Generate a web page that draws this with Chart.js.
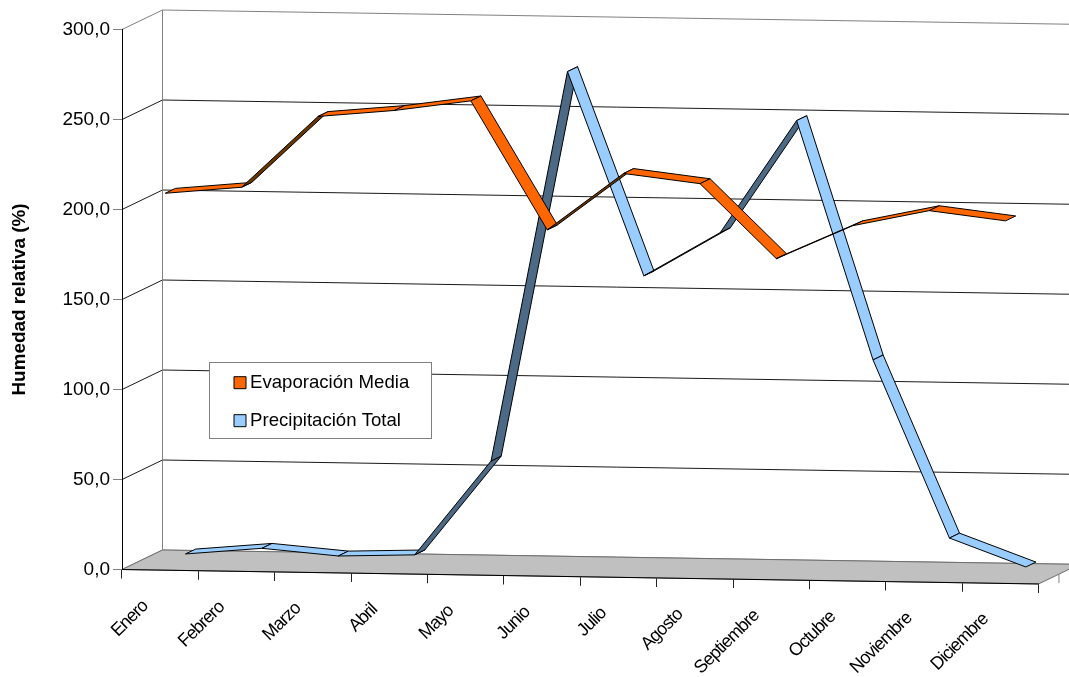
<!DOCTYPE html>
<html lang="es">
<head>
<meta charset="utf-8">
<style>html,body{margin:0;padding:0;background:#fff;overflow:hidden}canvas{display:block}</style>
<script src="https://cdn.jsdelivr.net/npm/chart.js@4"></script>
</head>
<body>
<canvas id="c" width="1069" height="677"></canvas>
<script>
const categories = ['Enero','Febrero','Marzo','Abril','Mayo','Junio','Julio','Agosto','Septiembre','Octubre','Noviembre','Diciembre'];
const evaporacion = [208, 212, 252, 256, 262, 191, 223, 218, 177, 196, 205, 200];
const precipitacion = [2.2, 6, 2.4, 3.7, 56.5, 273.5, 160.7, 185.4, 248.3, 116, 17.7, 2.3];
const FONT = '"Liberation Sans", Arial, sans-serif';

const SHEAR = 0.0157, DEPTH_X = 40.5, DEPTH_Y = -19.5;
const ribbonDepth = [[1/8, 3/8], [5/8, 7/8]];
const ribbonFaces = [['#FF6600', '#6B3500'], ['#99CCFF', '#4C6985']];

const project = (x, y, d, left) => [x + DEPTH_X * d, y + SHEAR * (x - left) + DEPTH_Y * d];

function polygon(ctx, pts) {
  ctx.beginPath();
  pts.forEach((p, i) => i ? ctx.lineTo(p[0], p[1]) : ctx.moveTo(p[0], p[1]));
  ctx.closePath();
}

const scene = {
  id: 'scene',
  afterLayout(chart) {
    const lg = chart.legend, h = lg.height, w = lg.width;
    lg.left = 219.85; lg.top = 354; lg.right = lg.left + w; lg.bottom = lg.top + h;
    const xs = chart.scales.x;
    if (!xs._sheared) {
      xs._sheared = true;
      ['drawGrid', 'drawBorder', 'drawLabels'].forEach(name => {
        const orig = xs[name];
        xs[name] = function (a) {
          const c = this.ctx;
          c.save();
          c.transform(1, SHEAR, 0, 1, 0, -SHEAR * chart.chartArea.left);
          if (name === 'drawLabels') c.letterSpacing = '-0.9px';
          orig.call(this, a);
          c.restore();
        };
      });
    }
  },
  beforeDraw(chart) {
    const {ctx, chartArea: a, scales: {y: ys}} = chart;
    ctx.save();
    ctx.fillStyle = '#fff';
    ctx.fillRect(0, 0, chart.width, chart.height);
    ctx.lineWidth = 1;
    ys.ticks.forEach(t => {
      const py = ys.getPixelForValue(t.value);
      const edge = t.value === ys.min || t.value === ys.max;
      ctx.strokeStyle = edge ? '#808080' : '#1a1a1a';
      ctx.beginPath();
      const p0 = [a.left, py];
      const p1 = project(a.left, py, 1, a.left);
      const p2 = project(a.right, py, 1, a.left);
      ctx.moveTo(p0[0], p0[1]); ctx.lineTo(p1[0], p1[1]); ctx.lineTo(p2[0], p2[1]);
      ctx.stroke();
    });
    // back wall left edge
    const bl = project(a.left, a.bottom, 1, a.left), tl = project(a.left, a.top, 1, a.left);
    ctx.strokeStyle = '#808080';
    ctx.beginPath(); ctx.moveTo(bl[0], bl[1]); ctx.lineTo(tl[0], tl[1]); ctx.stroke();
    // floor
    const fr = project(a.right, a.bottom, 0, a.left), br = project(a.right, a.bottom, 1, a.left);
    polygon(ctx, [[a.left, a.bottom], bl, br, fr]);
    ctx.fillStyle = '#C0C0C0'; ctx.fill();
    ctx.strokeStyle = '#6e6e6e'; ctx.stroke();
    // depth axis tick
    const mid = project(a.right, a.bottom, 0.5, a.left);
    ctx.strokeStyle = '#808080';
    ctx.beginPath(); ctx.moveTo(mid[0], mid[1]); ctx.lineTo(mid[0], mid[1] + 9); ctx.stroke();
    // legend box
    ctx.fillStyle = '#fff'; ctx.strokeStyle = '#808080';
    ctx.fillRect(209.5, 362.5, 222, 76);
    ctx.strokeRect(209.5, 362.5, 222, 76);
    ctx.restore();
  },
  afterDatasetsDraw(chart) {
    const {ctx, chartArea: a} = chart;
    ctx.save();
    ctx.lineWidth = 1;
    ctx.strokeStyle = '#000';
    ctx.lineJoin = 'round';
    [1, 0].forEach(i => {
      const pts = chart.getDatasetMeta(i).data;
      const [d0, d1] = ribbonDepth[i];
      for (let j = 0; j < pts.length - 1; j++) {
        const A = project(pts[j].x, pts[j].y, d0, a.left), B = project(pts[j + 1].x, pts[j + 1].y, d0, a.left);
        const C = project(pts[j + 1].x, pts[j + 1].y, d1, a.left), D = project(pts[j].x, pts[j].y, d1, a.left);
        const cross = (B[0] - A[0]) * (D[1] - A[1]) - (B[1] - A[1]) * (D[0] - A[0]);
        polygon(ctx, [A, B, C, D]);
        ctx.fillStyle = ribbonFaces[i][cross < 0 ? 0 : 1];
        ctx.fill();
        ctx.stroke();
      }
    });
    ctx.restore();
  }
};

new Chart(document.getElementById('c'), {
  type: 'line',
  plugins: [scene],
  data: {
    labels: categories,
    datasets: [
      {label: 'Evaporación Media', data: evaporacion, showLine: false, pointRadius: 0, pointHoverRadius: 0,
       backgroundColor: '#FF6600', borderColor: '#000', borderWidth: 1, pointBorderWidth: 1},
      {label: 'Precipitación Total', data: precipitacion, showLine: false, pointRadius: 0, pointHoverRadius: 0,
       backgroundColor: '#99CCFF', borderColor: '#000', borderWidth: 1, pointBorderWidth: 1}
    ]
  },
  options: {
    responsive: false,
    animation: false,
    events: [],
    layout: {padding: {top: 29.5, right: 30.3, left: 0, bottom: 0}},
    plugins: {
      tooltip: {enabled: false},
      title: {display: false},
      legend: {
        display: true, position: 'chartArea', align: 'start',
        labels: {
          usePointStyle: true, pointStyle: 'rect', boxWidth: 1.5, boxHeight: 12,
          padding: 19.4, color: '#000', font: {family: FONT, size: 18.6}
        }
      }
    },
    scales: {
      x: {
        type: 'category', offset: true,
        afterFit: s => { s.height = 677 - 569.5; },
        grid: {display: true, drawOnChartArea: false, drawTicks: true, offset: true, tickLength: 9, color: '#222', lineWidth: 1},
        border: {display: true, color: '#000', width: 1},
        ticks: {autoSkip: false, minRotation: 45, maxRotation: 45, labelOffset: -15, padding: 17, color: '#000', font: {family: FONT, size: 18}}
      },
      y: {
        type: 'linear', min: 0, max: 300,
        afterFit: s => { s.width = 122; },
        title: {display: true, text: 'Humedad relativa (%)', color: '#000', padding: {top: 8, bottom: 0}, font: {family: FONT, size: 18.9, weight: 'bold'}},
        grid: {display: true, drawOnChartArea: false, drawTicks: true, tickLength: 9, color: '#808080', lineWidth: 1},
        border: {display: true, color: '#000', width: 1},
        ticks: {stepSize: 50, padding: 3, color: '#000', font: {family: FONT, size: 19},
          callback: v => v.toFixed(1).replace('.', ',')}
      }
    }
  }
});
</script>
</body>
</html>
